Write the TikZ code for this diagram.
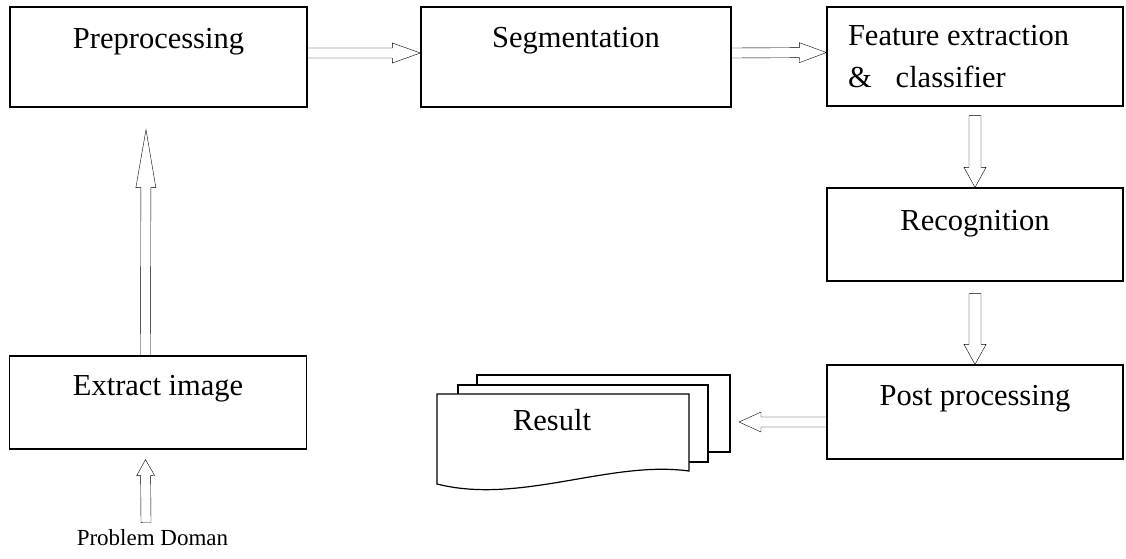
\documentclass[tikz,border=0pt]{standalone}
\usepackage{fontspec}
\setmainfont{Liberation Serif}
\usetikzlibrary{calc}

\begin{document}
\begin{tikzpicture}[
  x=1pt, y=-1pt,
  font=\fontsize{30.5}{42}\selectfont,
  stage/.style={draw, line width=1.2pt, inner sep=0pt, minimum width=297pt,
                text height=40pt, text depth=54pt},
  page/.style={draw, line width=1.2pt, fill=white},
  hollow/.style n args={3}{draw, line width=1.2pt, line join=miter,
    to path={let \p1=($(\tikztotarget)!#3!(\tikztostart)$) in
      ($(\tikztostart)!#1!90:(\tikztotarget)$) -- ($(\p1)!#1!90:(\tikztotarget)$)
      -- ($(\p1)!#2!90:(\tikztotarget)$) -- (\tikztotarget)
      -- ($(\p1)!#2!-90:(\tikztotarget)$) -- ($(\p1)!#1!-90:(\tikztotarget)$)
      -- ($(\tikztostart)!#1!-90:(\tikztotarget)$) -- cycle}}
]
\useasboundingbox (0,0) rectangle (1126,558);

% top row
\node[stage, text height=41pt, text depth=59pt] (pre) at (158.5,57) {Preprocessing};
\node[stage, minimum width=310pt, text depth=60pt] (seg) at (576,57) {Segmentation};
\node[stage, minimum width=296pt, text height=38pt, text depth=61pt] (feat) at (975,56.5)
  {\parbox[t]{254pt}{Feature extraction\\\&\hspace{24pt}classifier}};

% right column
\node[stage, minimum width=296pt, text height=42pt, text depth=51pt] (recog) at (975,234.5) {Recognition};
\node[stage, minimum width=296pt] (post) at (975,412) {Post processing};

% left column
\node[stage, text height=39pt] (extract) at (158,402.5) {Extract image};
\node[anchor=base, font=\fontsize{23}{28}\selectfont] (domain) at (152.5,545) {Problem Doman};

% stacked result pages
\draw[page] (477,375) rectangle (730,452);
\draw[page] (458,385) rectangle (708,462);
\draw[page] (437,394) -- (689,394) -- (689,471)
  .. controls (610,460) and (520,505) .. (437,484) -- cycle;
\node[anchor=base] (result) at (552,430) {Result};
\coordinate (resin) at (739,422);

% flow arrows
\draw ([yshift=4pt]pre.east) to[hollow={5pt}{10pt}{28pt}] ([yshift=4pt]seg.west);
\draw ([yshift=4pt]seg.east) to[hollow={5pt}{10pt}{27pt}] ([yshift=4pt]feat.west);
\draw ([yshift=-9pt]feat.south) to[hollow={6pt}{11pt}{20pt}] (recog.north);
\draw ([yshift=-12pt]recog.south) to[hollow={6pt}{11pt}{20pt}] (post.north);
\draw ([yshift=-10pt]post.west) to[hollow={5pt}{10pt}{22pt}] (resin);
\draw ([xshift=-12.5pt]extract.north) to[hollow={5pt}{10pt}{58pt}] ([xshift=-12.5pt, yshift=-22pt]pre.south);
\draw ([xshift=-6.5pt, yshift=3pt]domain.north) to[hollow={5pt}{9pt}{16pt}] ([xshift=-12.5pt, yshift=-10pt]extract.south);
\end{tikzpicture}
\end{document}
